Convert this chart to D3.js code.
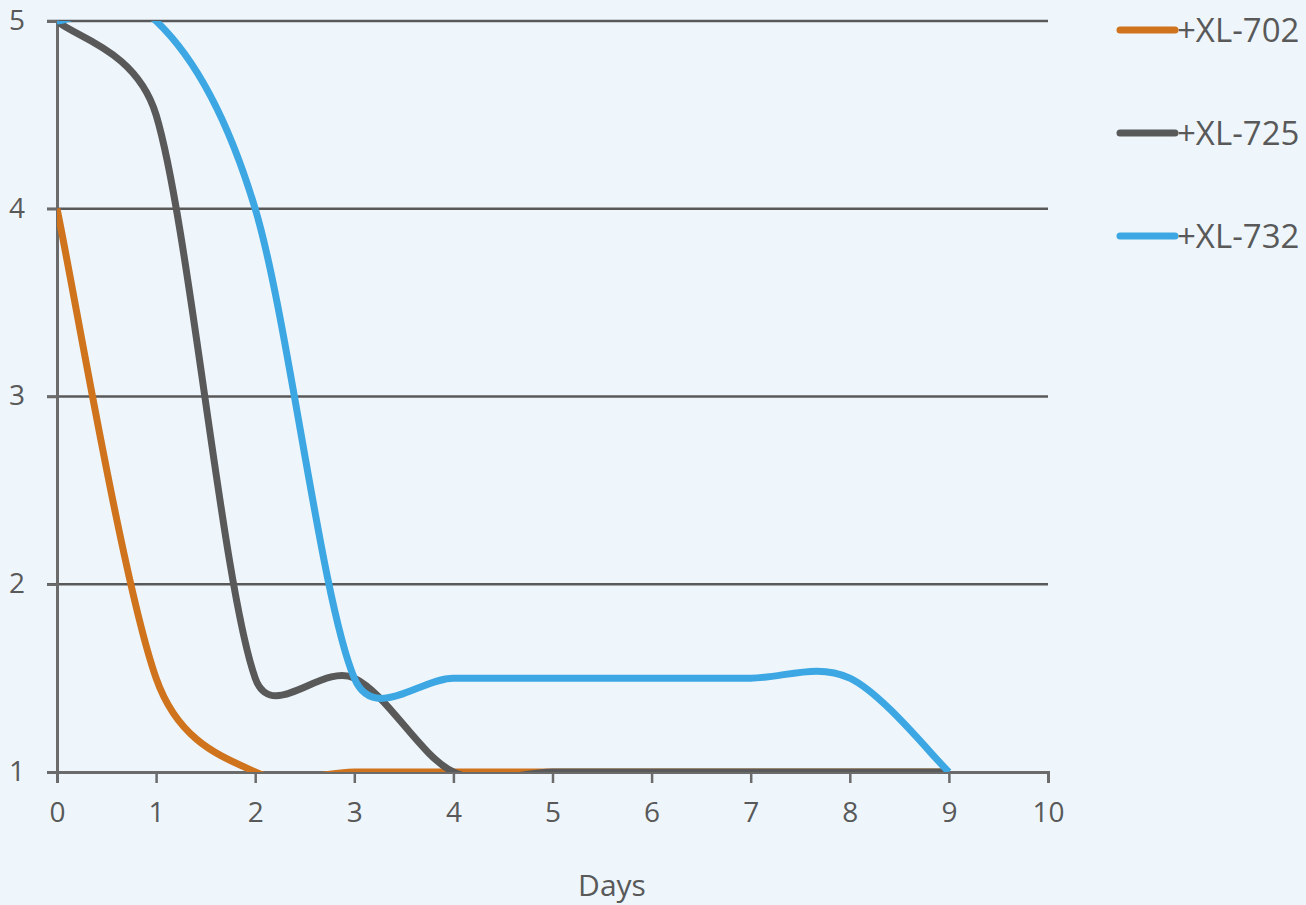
<!DOCTYPE html>
<html>
<head>
<meta charset="utf-8">
<script src="https://cdnjs.cloudflare.com/ajax/libs/d3/7.8.5/d3.min.js"></script>
<style>
  body { margin: 0; background: #eef6fc; }
  .chart text { font-family: "Open Sans", sans-serif; fill: #595959; }
</style>
</head>
<body>
<div class="chart"></div>
<script>
var svgWidth = 1306;
var svgHeight = 905;

// chart values
var days = [0, 1, 2, 3, 4, 5, 6, 7, 8, 9];
var seriesNames = ["+XL-702", "+XL-725", "+XL-732"];
var xl702 = [4, 1.5, 1, 1, 1, 1, 1, 1, 1, 1];
var xl725 = [5, 4.5, 1.5, 1.5, 1, 1, 1, 1, 1, 1];
var xl732 = [5, 5, 4, 1.5, 1.5, 1.5, 1.5, 1.5, 1.5, 1];
var seriesColors = ["#cf731d", "#595959", "#3ca7e2"];
var xTicks = [0, 1, 2, 3, 4, 5, 6, 7, 8, 9, 10];
var yTicks = [1, 2, 3, 4, 5];

var margin = { top: 21, left: 57, right: 258, bottom: 133 };
var width = svgWidth - margin.left - margin.right;
var height = svgHeight - margin.top - margin.bottom;

// spreadsheet-style smoothing: catmull-rom arms (1/6), each arm capped at half the segment
function SmoothCurve(context) {
  this._context = context;
}
SmoothCurve.prototype = {
  areaStart: function() {},
  areaEnd: function() {},
  lineStart: function() { this._pts = []; },
  point: function(x, y) { this._pts.push([+x, +y]); },
  lineEnd: function() {
    var p = this._pts, ctx = this._context, n = p.length;
    if (!n) return;
    ctx.moveTo(p[0][0], p[0][1]);
    for (var i = 0; i < n - 1; i++) {
      var p0 = p[i - 1] || p[i], p1 = p[i], p2 = p[i + 1], p3 = p[i + 2] || p[i + 1];
      var seg = Math.hypot(p2[0] - p1[0], p2[1] - p1[1]);
      var a = arm(p0, p2, seg), b = arm(p1, p3, seg);
      ctx.bezierCurveTo(p1[0] + a[0], p1[1] + a[1], p2[0] - b[0], p2[1] - b[1], p2[0], p2[1]);
    }
  }
};
function arm(from, to, seg) {
  var dx = (to[0] - from[0]) / 6, dy = (to[1] - from[1]) / 6;
  var len = Math.hypot(dx, dy);
  if (len > seg / 2 && len > 0) {
    dx *= seg / 2 / len;
    dy *= seg / 2 / len;
  }
  return [dx, dy];
}
function curveSmooth(context) { return new SmoothCurve(context); }

var svg = d3.select(".chart")
  .append("svg")
  .attr("width", svgWidth)
  .attr("height", svgHeight);

svg.append("rect")
  .attr("width", svgWidth)
  .attr("height", svgHeight)
  .attr("fill", "#eef6fc");

var chart = svg.append("g")
  .attr("transform", "translate(" + margin.left + "," + margin.top + ")");

var xScale = d3.scaleLinear().domain([0, 10]).range([0, width]);
var yScale = d3.scaleLinear().domain([1, 5]).range([height, 0]);

// horizontal gridlines (with left tick stubs)
chart.append("g")
  .selectAll("line")
  .data(yTicks.filter(function(d) { return d > 1; }))
  .enter()
  .append("line")
  .attr("x1", -10)
  .attr("x2", width)
  .attr("y1", function(d) { return yScale(d); })
  .attr("y2", function(d) { return yScale(d); })
  .attr("stroke", "#595959")
  .attr("stroke-width", 2.5);

// y axis
var leftAxis = d3.axisLeft(yScale)
  .tickValues(yTicks)
  .tickFormat(d3.format("d"))
  .tickSize(10)
  .tickPadding(22);
var yAxisG = chart.append("g").attr("font-family", null).call(leftAxis);
yAxisG.select(".domain").attr("stroke", "#6b6b6b").attr("stroke-width", 3);
yAxisG.selectAll(".tick line").attr("stroke", "#6b6b6b").attr("stroke-width", 2.5);
yAxisG.selectAll(".tick text")
  .attr("font-size", 28)
  .attr("font-family", null)
  .attr("dy", "0.3em")
  .style("fill", "#595959");

// x axis
var bottomAxis = d3.axisBottom(xScale)
  .tickValues(xTicks)
  .tickSize(11)
  .tickSizeOuter(11)
  .tickPadding(19);
var xAxisG = chart.append("g")
  .attr("transform", "translate(0," + height + ")")
  .call(bottomAxis);
xAxisG.select(".domain").attr("stroke", "#6b6b6b").attr("stroke-width", 3);
xAxisG.selectAll(".tick line").attr("stroke", "#6b6b6b").attr("stroke-width", 2.5);
xAxisG.selectAll(".tick text")
  .attr("font-size", 28)
  .attr("font-family", null)
  .style("fill", "#595959");

// clip lines to the plot area
chart.append("clipPath")
  .attr("id", "plot-clip")
  .append("rect")
  .attr("x", 0)
  .attr("y", 0)
  .attr("width", width)
  .attr("height", height);

var line = d3.line()
  .x(function(d, i) { return xScale(days[i]); })
  .y(function(d) { return yScale(d); })
  .curve(curveSmooth);

var seriesData = [xl702, xl725, xl732];

chart.append("g")
  .attr("clip-path", "url(#plot-clip)")
  .selectAll("path")
  .data(seriesData)
  .enter()
  .append("path")
  .attr("d", line)
  .attr("fill", "none")
  .attr("stroke", function(d, i) { return seriesColors[i]; })
  .attr("stroke-width", 7)
  .attr("stroke-linejoin", "round");

// legend
var legend = svg.append("g")
  .selectAll("g")
  .data(seriesNames)
  .enter()
  .append("g")
  .attr("transform", function(d, i) { return "translate(1120," + (30 + i * 103) + ")"; });

legend.append("line")
  .attr("x1", 0)
  .attr("x2", 55)
  .attr("stroke", function(d, i) { return seriesColors[i]; })
  .attr("stroke-width", 7)
  .attr("stroke-linecap", "round");

legend.append("text")
  .attr("x", 57)
  .attr("dy", "0.36em")
  .attr("font-size", 33)
  .text(function(d) { return d; });

// x axis title
svg.append("text")
  .attr("x", 612)
  .attr("y", 896)
  .attr("text-anchor", "middle")
  .attr("font-size", 30)
  .text("Days");
</script>
</body>
</html>
